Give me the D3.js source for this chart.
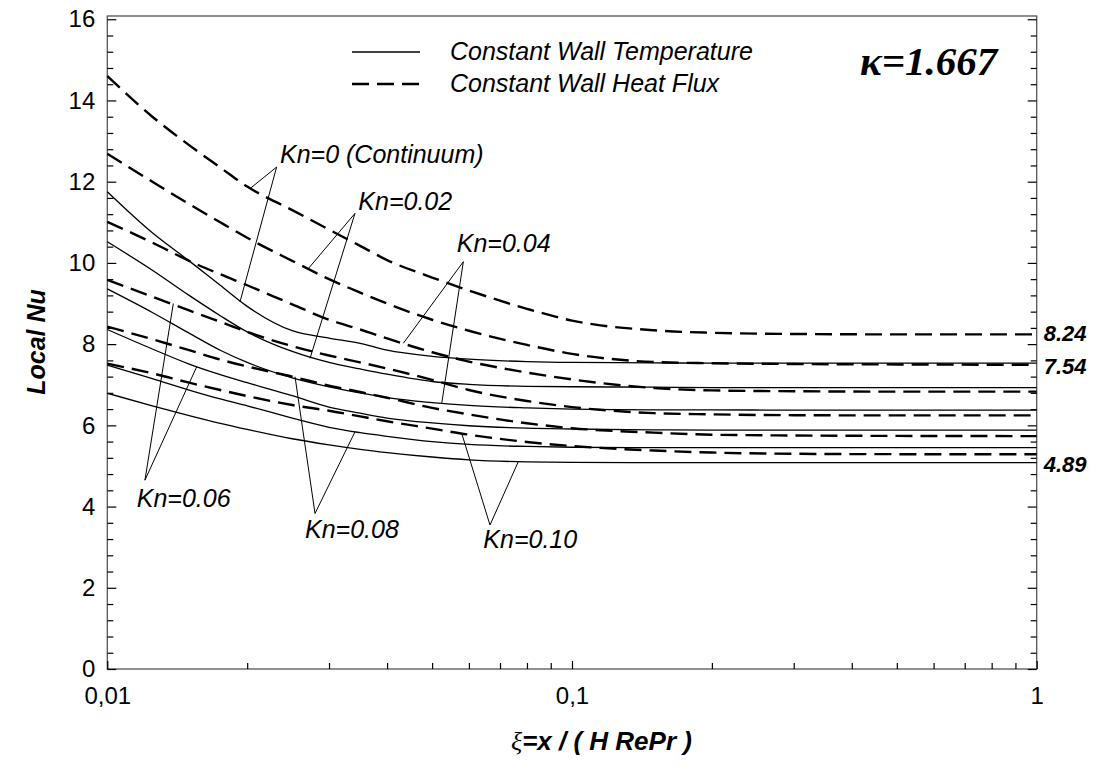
<!DOCTYPE html>
<html>
<head>
<meta charset="utf-8">
<script src="https://cdn.jsdelivr.net/npm/d3@7"></script>
<style>
  body { margin: 0; background: #fff; }
  text { font-family: 'Liberation Sans', Arial, sans-serif; }
</style>
</head>
<body>
<svg id="chart"></svg>
<script>
// dimensionless axial position xi = x / (H Re Pr)
const xi = [0.01, 0.0125, 0.015, 0.0175, 0.02, 0.025, 0.03, 0.035, 0.04, 0.05, 0.06, 0.08, 0.1, 0.15, 0.2, 0.3, 0.5, 1]

// local Nu, constant wall heat flux (dashed)
const fluxKn000 = [14.6, 13.6, 12.9, 12.35, 11.88, 11.3, 10.82, 10.42, 10.07, 9.64, 9.32, 8.87, 8.58, 8.34, 8.28, 8.25, 8.24, 8.24]
const fluxKn002 = [12.69, 12.0, 11.45, 11.0, 10.62, 10.05, 9.6, 9.27, 9.0, 8.6, 8.33, 7.98, 7.76, 7.56, 7.53, 7.51, 7.5, 7.49]
const fluxKn004 = [11.01, 10.5, 10.05, 9.72, 9.45, 8.98, 8.6, 8.36, 8.14, 7.8, 7.57, 7.3, 7.13, 6.92, 6.86, 6.84, 6.83, 6.83]
const fluxKn006 = [9.58, 9.17, 8.83, 8.55, 8.3, 7.95, 7.72, 7.55, 7.4, 7.12, 6.87, 6.6, 6.45, 6.3, 6.27, 6.25, 6.245, 6.245]
const fluxKn008 = [8.43, 8.12, 7.85, 7.62, 7.45, 7.2, 6.98, 6.82, 6.68, 6.43, 6.27, 6.05, 5.93, 5.82, 5.77, 5.75, 5.74, 5.735]
const fluxKn010 = [7.52, 7.28, 7.05, 6.87, 6.72, 6.5, 6.36, 6.22, 6.1, 5.92, 5.77, 5.59, 5.49, 5.38, 5.33, 5.3, 5.29, 5.29]

// local Nu, constant wall temperature (solid)
const tempKn000 = [11.75, 10.74, 10.05, 9.45, 8.93, 8.33, 8.15, 8.02, 7.85, 7.7, 7.63, 7.57, 7.55, 7.54, 7.53, 7.53, 7.53, 7.53]
const tempKn002 = [10.52, 9.82, 9.2, 8.7, 8.3, 7.82, 7.55, 7.39, 7.26, 7.08, 7.01, 6.96, 6.95, 6.94, 6.93, 6.93, 6.93, 6.93]
const tempKn004 = [9.36, 8.78, 8.27, 7.85, 7.55, 7.17, 6.95, 6.8, 6.68, 6.56, 6.49, 6.43, 6.4, 6.38, 6.38, 6.375, 6.375, 6.375]
const tempKn006 = [8.36, 7.88, 7.51, 7.25, 7.05, 6.73, 6.45, 6.3, 6.18, 6.06, 5.99, 5.93, 5.91, 5.89, 5.88, 5.88, 5.88, 5.88]
const tempKn008 = [7.48, 7.15, 6.87, 6.65, 6.48, 6.18, 5.95, 5.82, 5.73, 5.6, 5.53, 5.48, 5.46, 5.45, 5.45, 5.45, 5.45, 5.45]
const tempKn010 = [6.79, 6.48, 6.24, 6.05, 5.9, 5.67, 5.52, 5.41, 5.33, 5.22, 5.15, 5.1, 5.09, 5.08, 5.08, 5.08, 5.08, 5.08]

// Kn annotations: label, label anchor, leader apex, leader ends (xi, Nu)
const knLabels = ['Kn=0 (Continuum)', 'Kn=0.02', 'Kn=0.04', 'Kn=0.06', 'Kn=0.08', 'Kn=0.10']
const knLabelAt = [[0.02353, 12.45], [0.03469, 11.30], [0.05648, 10.27], [0.01157, 3.995], [0.02664, 3.217], [0.06444, 2.971]]
const knApex = [[0.02314, 12.36], [0.03412, 11.22], [0.05837, 10.03], [0.01205, 4.65], [0.02799, 3.83], [0.06661, 3.545]]
const knEnds = [
  [[0.02028, 11.83], [0.0193, 9.04]],
  [[0.02708, 9.86], [0.02731, 7.65]],
  [[0.04335, 8.02], [0.05244, 6.54]],
  [[0.01387, 9.0], [0.01557, 7.44]],
  [[0.02535, 7.2], [0.03412, 5.84]],
  [[0.0579, 5.8], [0.0766, 5.1]]
]

// fully developed values written at the right side
const endLabels = ['8.24', '7.54', '4.89']
const endLabelNu = [8.07, 7.26, 4.85]

// axis ticks
const yMajor = [0, 2, 4, 6, 8, 10, 12, 14, 16]
const xMajor = [0.01, 0.1, 1]
const xMajorLabels = ['0,01', '0,1', '1']

const W = 1101
const H = 772
const svg = d3.select('#chart').attr('width', W).attr('height', H)

const x = d3.scaleLog().domain([0.01, 1]).range([107.3, 1036.7])
const y = d3.scaleLinear().domain([0, 16.08]).range([669, 16])

const axisColor = '#555'

// frame
svg.append('rect')
  .attr('x', x(0.01))
  .attr('y', y(16.08))
  .attr('width', x(1) - x(0.01))
  .attr('height', y(0) - y(16.08))
  .attr('fill', 'none')
  .attr('stroke', axisColor)
  .attr('stroke-width', 1.3)

// minor ticks every 0.4 on y, 2..9 on x
const yMinor = d3.range(0, 16.01, 0.4).filter(v => Math.abs(v / 2 - Math.round(v / 2)) > 1e-6)
const xMinor = [0.02, 0.03, 0.04, 0.05, 0.06, 0.07, 0.08, 0.09, 0.2, 0.3, 0.4, 0.5, 0.6, 0.7, 0.8, 0.9]

const tickAxis = (axis, values, size, tx, ty) => {
  svg.append('g')
    .attr('transform', `translate(${tx},${ty})`)
    .call(axis.tickValues(values).tickSize(size).tickFormat(''))
    .call(g => g.select('.domain').remove())
    .selectAll('line')
    .attr('stroke', '#000')
    .attr('stroke-width', 1.2)
}

// left (inward ticks)
tickAxis(d3.axisRight(y), yMajor, 9, x(0.01), 0)
tickAxis(d3.axisRight(y), yMinor, 6, x(0.01), 0)
// right (inward ticks)
tickAxis(d3.axisLeft(y), yMajor, 9, x(1), 0)
tickAxis(d3.axisLeft(y), yMinor, 6, x(1), 0)
// bottom (inward ticks)
tickAxis(d3.axisTop(x), xMajor, 8, 0, y(0))
tickAxis(d3.axisTop(x), xMinor, 6, 0, y(0))

// y tick labels
svg.append('g')
  .attr('transform', `translate(${x(0.01)},0)`)
  .call(d3.axisLeft(y).tickValues(yMajor).tickSize(0).tickPadding(12).tickFormat(d3.format('d')))
  .call(g => g.select('.domain').remove())
  .selectAll('text')
  .style('font-family', "'Liberation Sans', Arial, sans-serif")
  .style('font-size', '24px')
  .attr('fill', '#000')

// x tick labels
svg.append('g')
  .attr('transform', `translate(0,${y(0)})`)
  .call(d3.axisBottom(x).tickValues(xMajor).tickSize(0).tickPadding(18)
    .tickFormat((d, i) => xMajorLabels[i]))
  .call(g => g.select('.domain').remove())
  .selectAll('text')
  .style('font-family', "'Liberation Sans', Arial, sans-serif")
  .style('font-size', '24px')
  .attr('fill', '#000')

// curves
const series = [
  { values: fluxKn000, dashed: true },
  { values: fluxKn002, dashed: true },
  { values: fluxKn004, dashed: true },
  { values: fluxKn006, dashed: true },
  { values: fluxKn008, dashed: true },
  { values: fluxKn010, dashed: true },
  { values: tempKn000, dashed: false },
  { values: tempKn002, dashed: false },
  { values: tempKn004, dashed: false },
  { values: tempKn006, dashed: false },
  { values: tempKn008, dashed: false },
  { values: tempKn010, dashed: false }
]

const line = d3.line()
  .x((d, i) => x(xi[i]))
  .y(d => y(d))
  .curve(d3.curveMonotoneX)

svg.append('g')
  .selectAll('path')
  .data(series)
  .enter()
  .append('path')
  .attr('d', d => line(d.values))
  .attr('fill', 'none')
  .attr('stroke', '#000')
  .attr('stroke-width', d => (d.dashed ? 2.4 : 1.3))
  .attr('stroke-dasharray', d => (d.dashed ? '17,8' : null))

// Kn leaders and labels
const ann = svg.append('g')
knLabels.forEach((label, i) => {
  const a = knApex[i]
  knEnds[i].forEach(e => {
    ann.append('line')
      .attr('x1', x(a[0])).attr('y1', y(a[1]))
      .attr('x2', x(e[0])).attr('y2', y(e[1]))
      .attr('stroke', '#000')
      .attr('stroke-width', 1)
  })
  ann.append('text')
    .attr('x', x(knLabelAt[i][0]))
    .attr('y', y(knLabelAt[i][1]))
    .style('font-size', '25px')
    .style('font-style', 'italic')
    .text(label)
})

// right side values
svg.append('g')
  .selectAll('text')
  .data(endLabels)
  .enter()
  .append('text')
  .attr('x', x(1) + 7)
  .attr('y', (d, i) => y(endLabelNu[i]))
  .style('font-size', '22px')
  .style('font-style', 'italic')
  .style('font-weight', 'bold')
  .text(d => d)

// legend
const legend = svg.append('g')
legend.append('line')
  .attr('x1', 352).attr('x2', 420).attr('y1', 52).attr('y2', 52)
  .attr('stroke', '#000').attr('stroke-width', 1.3)
legend.append('line')
  .attr('x1', 352).attr('x2', 420).attr('y1', 84).attr('y2', 84)
  .attr('stroke', '#000').attr('stroke-width', 2.4).attr('stroke-dasharray', '17,8')
legend.append('text')
  .attr('x', 450).attr('y', 60)
  .style('font-size', '25px').style('font-style', 'italic')
  .text('Constant Wall Temperature')
legend.append('text')
  .attr('x', 450).attr('y', 92)
  .style('font-size', '25px').style('font-style', 'italic')
  .text('Constant Wall Heat Flux')

// kappa
svg.append('text')
  .attr('x', 860).attr('y', 75)
  .style('font-family', "'Liberation Serif', 'Times New Roman', serif")
  .style('font-size', '41px')
  .style('font-style', 'italic')
  .style('font-weight', 'bold')
  .text('κ=1.667')

// axis titles
svg.append('text')
  .attr('transform', 'translate(45,342) rotate(-90)')
  .attr('text-anchor', 'middle')
  .style('font-size', '25px')
  .style('font-style', 'italic')
  .style('font-weight', 'bold')
  .text('Local Nu')

const xTitle = svg.append('text')
  .attr('x', 511).attr('y', 750)
  .style('font-size', '26px')
  .style('font-style', 'italic')
  .style('font-weight', 'bold')
xTitle.append('tspan')
  .style('font-family', "'Liberation Serif', 'Times New Roman', serif")
  .style('font-weight', 'normal')
  .text('ξ')
xTitle.append('tspan').text('=x / ( H RePr )')
</script>
</body>
</html>
